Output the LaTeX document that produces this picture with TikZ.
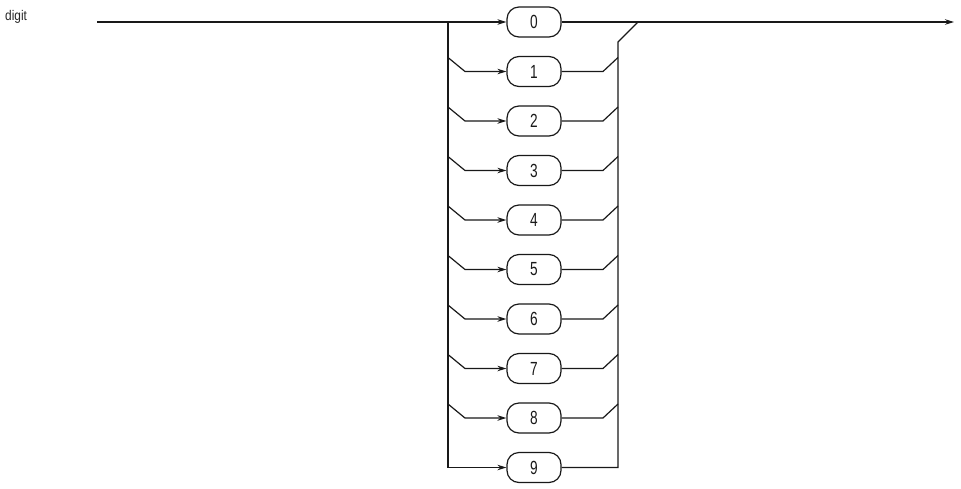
\documentclass[tikz,border=0pt]{standalone}
\usepackage{fontspec}
\setmainfont{Liberation Sans}
\newfontfamily\labfont[FakeStretch=0.85]{Liberation Sans}
\newfontfamily\digfont[FakeStretch=0.72]{Liberation Sans}
\usetikzlibrary{arrows.meta}
\begin{document}
\begin{tikzpicture}[x=1pt,y=-1pt,
  line/.style={line width=1.2pt,black!90},
  arr/.style={line,-{Stealth[length=9pt,width=5.5pt]}},
  term/.style={draw,line width=1.2pt,black!90,rectangle,rounded corners=12pt,
    minimum width=54pt,minimum height=30pt,inner sep=0pt,
    font=\digfont\fontsize{19}{19}\selectfont},
  lab/.style={font=\labfont\fontsize{14}{14}\selectfont,anchor=base west,inner sep=0pt,text=black!85}]
\useasboundingbox (0,0) rectangle (961,488);
\node[lab] (title) at (5,20) {digit};
\coordinate (start) at (97,22);
\coordinate (finish) at (954,22);
\foreach \i in {0,...,9}{
  \node[term] (n\i) at (534,{22+49.5*\i}) {\i};
}
\coordinate (ltop) at (448,22);
\coordinate (lbot) at (448,{22+49.5*9});
\coordinate (rtop) at (618,42);
\coordinate (rbot) at (618,{22+49.5*9});
\coordinate (join) at (638,22);
\draw[arr] (start) -- (n0.west);
\draw[arr] (n0.east) -- (finish);
\draw[line] (ltop) -- (lbot);
\draw[arr] (lbot) -- (n9.west);
\draw[line] (n9.east) -- (rbot) -- (rtop) -- (join);
\foreach \i in {1,...,8}{
  \coordinate (la\i) at (448,{22+49.5*\i-14});
  \coordinate (lb\i) at (465,{22+49.5*\i});
  \coordinate (ra\i) at (603,{22+49.5*\i});
  \coordinate (rb\i) at (618,{22+49.5*\i-14});
  \draw[arr] (la\i) -- (lb\i) -- (n\i.west);
  \draw[line] (n\i.east) -- (ra\i) -- (rb\i);
}
\end{tikzpicture}
\end{document}
